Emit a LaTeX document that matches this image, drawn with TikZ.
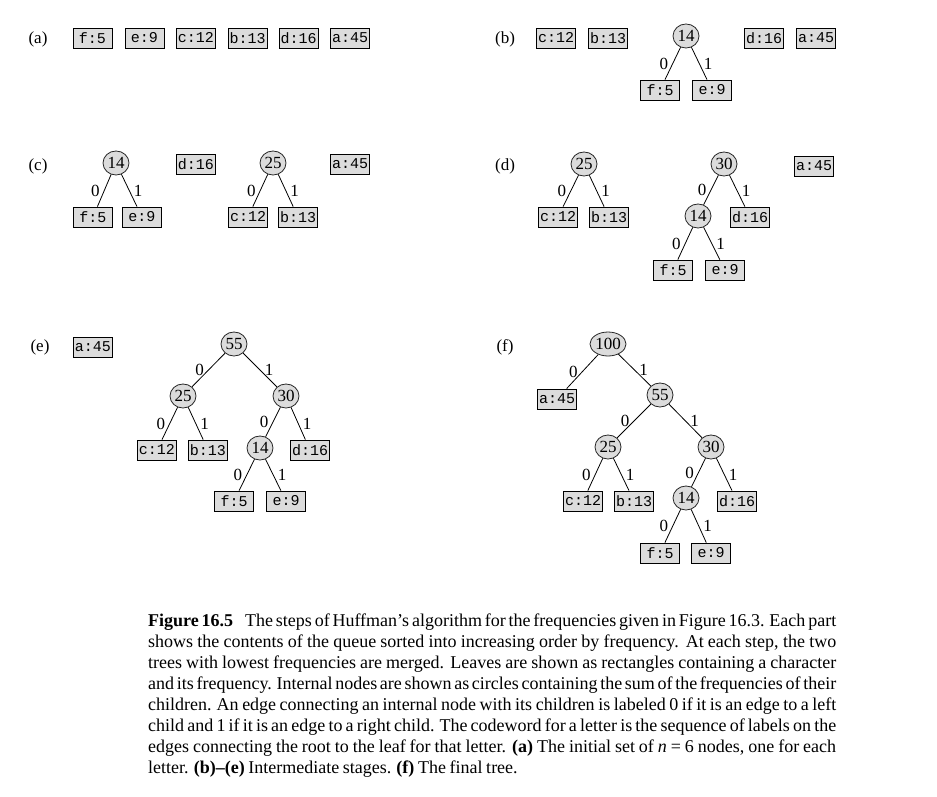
\documentclass[tikz,border=0pt]{standalone}
\usepackage{fontspec}
\setmainfont{Liberation Serif}
\setmonofont{Liberation Mono}
\newfontfamily\capserif[WordSpace={0.8,1.5,1.5}]{Liberation Serif}
\usetikzlibrary{shapes.geometric}
\definecolor{nodegray}{RGB}{220,220,220}
\newcommand{\leaffont}{\fontsize{15}{16}\ttfamily}
\newcommand{\numfont}{\fontsize{17}{19}\selectfont}
\newcommand{\capfont}{\capserif\fontsize{18}{21}\selectfont}
\tikzset{
  hleaf/.style={draw=black, fill=nodegray, line width=0.8pt, minimum width=39pt,
    minimum height=20pt, inner sep=0pt, font=\leaffont},
  hcirc/.style={ellipse, draw=black!85, fill=nodegray, line width=0.8pt,
    minimum width=26pt, minimum height=24pt, inner sep=0pt, font=\numfont},
  plabel/.style={font=\numfont, inner sep=0pt},
  hedge/.style={line width=0.8pt},
  b0/.style={midway, xshift=-9pt, inner sep=0pt, font=\numfont},
  b1/.style={midway, xshift=9pt, inner sep=0pt, font=\numfont},
  capline/.style={anchor=base west, inner sep=0pt, font=\capfont}
}
\begin{document}
\begin{tikzpicture}[x=1pt, y=-1pt]
\useasboundingbox[fill=white] (0,0) rectangle (937,797);

% (a) the initial queue
\node[plabel] (la) at (38,39) {(a)};
\node[hleaf] (af) at (92.5,38) {f:5};
\node[hleaf] (ae) at (144.5,38) {e:9};
\node[hleaf] (ac) at (196,38) {c:12};
\node[hleaf] (ab) at (247.5,38) {b:13};
\node[hleaf] (ad) at (298.5,38) {d:16};
\node[hleaf] (aa) at (350,38) {a:45};

% (b)
\node[plabel] (lb) at (505,39) {(b)};
\node[hleaf] (bc) at (556,38) {c:12};
\node[hleaf] (bb) at (608,38) {b:13};
\node[hcirc] (b14) at (686,36) {14};
\node[hleaf] (bf) at (660,90) {f:5};
\node[hleaf] (be) at (712,90) {e:9};
\node[hleaf] (bd) at (764,38) {d:16};
\node[hleaf] (ba) at (816,38) {a:45};
\draw[hedge] (b14) -- (bf) node[b0] {0};
\draw[hedge] (b14) -- (be) node[b1] {1};

% (c)
\node[plabel] (lc) at (38,166) {(c)};
\node[hcirc] (c14) at (116,163) {14};
\node[hleaf] (cf) at (93,217) {f:5};
\node[hleaf] (ce) at (142,217) {e:9};
\node[hleaf] (cd) at (196,164) {d:16};
\node[hcirc] (c25) at (273,163) {25};
\node[hleaf] (cc) at (248,217) {c:12};
\node[hleaf] (cb) at (298,217) {b:13};
\node[hleaf] (ca) at (350,164) {a:45};
\draw[hedge] (c14) -- (cf) node[b0] {0};
\draw[hedge] (c14) -- (ce) node[b1] {1};
\draw[hedge] (c25) -- (cc) node[b0] {0};
\draw[hedge] (c25) -- (cb) node[b1] {1};

% (d)
\node[plabel] (ld) at (505,166) {(d)};
\node[hcirc] (d25) at (584,164) {25};
\node[hleaf] (dc) at (558,217) {c:12};
\node[hleaf] (db) at (609,217) {b:13};
\node[hcirc] (d30) at (724,164) {30};
\node[hcirc] (d14) at (698,216) {14};
\node[hleaf] (dd) at (750,217) {d:16};
\node[hleaf] (df) at (673,270) {f:5};
\node[hleaf] (de) at (725,270) {e:9};
\node[hleaf] (da) at (814,166) {a:45};
\draw[hedge] (d25) -- (dc) node[b0] {0};
\draw[hedge] (d25) -- (db) node[b1] {1};
\draw[hedge] (d30) -- (d14) node[b0] {0};
\draw[hedge] (d30) -- (dd) node[b1] {1};
\draw[hedge] (d14) -- (df) node[b0] {0};
\draw[hedge] (d14) -- (de) node[b1] {1};

% (e)
\node[plabel] (le) at (40,347) {(e)};
\node[hleaf] (ea) at (93,347) {a:45};
\node[hcirc] (e55) at (234,344) {55};
\node[hcirc] (e25) at (183,396) {25};
\node[hcirc] (e30) at (286,396) {30};
\node[hleaf] (ec) at (157,450) {c:12};
\node[hleaf] (eb) at (208,450) {b:13};
\node[hcirc] (e14) at (260,448) {14};
\node[hleaf] (ed) at (310,450) {d:16};
\node[hleaf] (ef) at (234,501) {f:5};
\node[hleaf] (ee) at (286,501) {e:9};
\draw[hedge] (e55) -- (e25) node[b0] {0};
\draw[hedge] (e55) -- (e30) node[b1] {1};
\draw[hedge] (e25) -- (ec) node[b0] {0};
\draw[hedge] (e25) -- (eb) node[b1] {1};
\draw[hedge] (e30) -- (e14) node[b0] {0};
\draw[hedge] (e30) -- (ed) node[b1] {1};
\draw[hedge] (e14) -- (ef) node[b0] {0};
\draw[hedge] (e14) -- (ee) node[b1] {1};

% (f) the final tree
\node[plabel] (lf) at (505,347) {(f)};
\node[hcirc] (f100) at (608,344) {100};
\node[hleaf] (fa) at (557,399) {a:45};
\node[hcirc] (f55) at (660,395) {55};
\node[hcirc] (f25) at (608,447) {25};
\node[hcirc] (f30) at (711,447) {30};
\node[hleaf] (fc) at (583,501) {c:12};
\node[hleaf] (fb) at (634,501) {b:13};
\node[hcirc] (f14) at (686,498) {14};
\node[hleaf] (fd) at (737,501) {d:16};
\node[hleaf] (ff) at (660,553) {f:5};
\node[hleaf] (fe) at (711,553) {e:9};
\draw[hedge] (f100) -- (fa) node[b0] {0};
\draw[hedge] (f100) -- (f55) node[b1] {1};
\draw[hedge] (f55) -- (f25) node[b0] {0};
\draw[hedge] (f55) -- (f30) node[b1] {1};
\draw[hedge] (f25) -- (fc) node[b0] {0};
\draw[hedge] (f25) -- (fb) node[b1] {1};
\draw[hedge] (f30) -- (f14) node[b0] {0};
\draw[hedge] (f30) -- (fd) node[b1] {1};
\draw[hedge] (f14) -- (ff) node[b0] {0};
\draw[hedge] (f14) -- (fe) node[b1] {1};

% caption, one justified line per node
\node[capline] (cap1) at (148,626) {\makebox[688pt][s]{\textbf{Figure 16.5}\hspace*{12pt}The steps of Huffman’s algorithm for the frequencies given in Figure 16.3. Each part}};
\node[capline] (cap2) at (148,647) {\makebox[688pt][s]{shows the contents of the queue sorted into increasing order by frequency. At each step, the two}};
\node[capline] (cap3) at (148,668) {\makebox[688pt][s]{trees with lowest frequencies are merged. Leaves are shown as rectangles containing a character}};
\node[capline] (cap4) at (148,689) {\makebox[688pt][s]{and its frequency. Internal nodes are shown as circles containing the sum of the frequencies of their}};
\node[capline] (cap5) at (148,710) {\makebox[688pt][s]{children. An edge connecting an internal node with its children is labeled 0 if it is an edge to a left}};
\node[capline] (cap6) at (148,731) {\makebox[688pt][s]{child and 1 if it is an edge to a right child. The codeword for a letter is the sequence of labels on the}};
\node[capline] (cap7) at (148,752) {\makebox[688pt][s]{edges connecting the root to the leaf for that letter. \textbf{(a)} The initial set of \textit{n} = 6 nodes, one for each}};
\node[capline] (cap8) at (148,773) {letter. \textbf{(b)–(e)} Intermediate stages. \textbf{(f)} The final tree.};
\end{tikzpicture}
\end{document}
